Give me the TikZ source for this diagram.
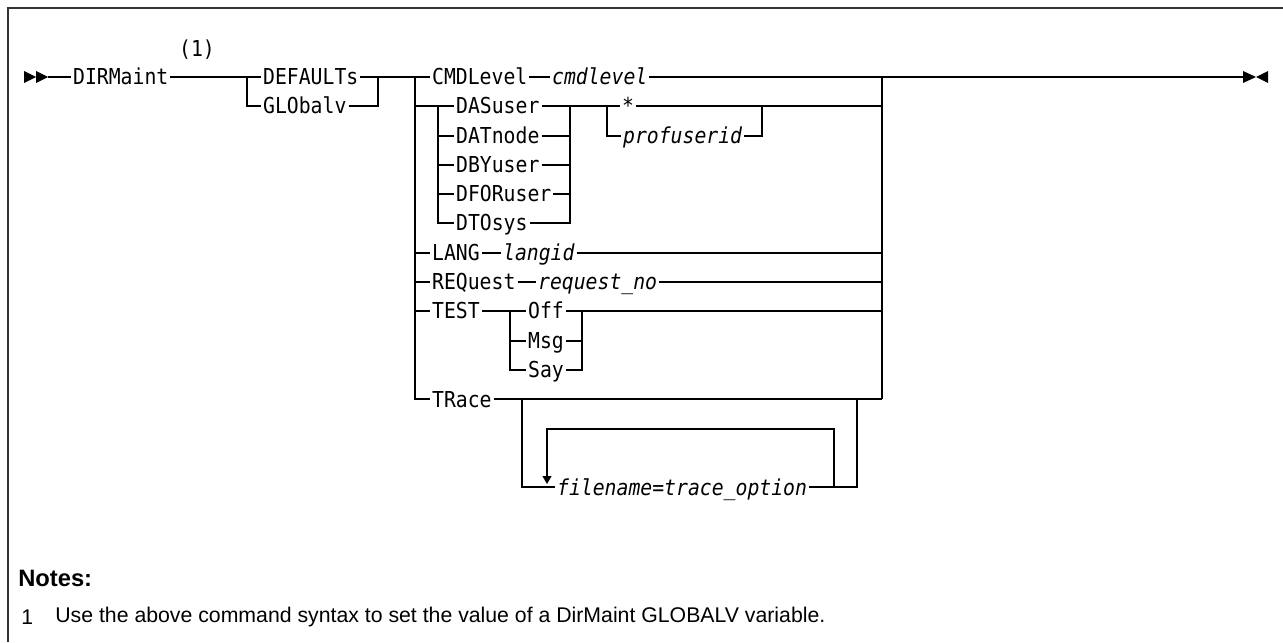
\documentclass[tikz,border=0pt]{standalone}
\usepackage{fontspec}
\setmainfont{Liberation Sans}
\newfontfamily\railfont{DejaVu Sans Mono}[ItalicFont={DejaVu Sans Mono Oblique}, FakeStretch=0.9]
\usetikzlibrary{arrows.meta, positioning, calc}
\tikzset{
    kw/.style={anchor=west, inner xsep=1pt, inner ysep=0pt, text height=9.1pt, text depth=0pt, font={\railfont\fontsize{12.5}{14}\selectfont}},
    var/.style={kw, font={\railfont\itshape\fontsize{12.5}{14}\selectfont}},
    rail/.style={line width=0.85pt},
    loop_arrow/.style={rail, -{Triangle[width=5pt,length=4.5pt]}},
    notetext/.style={anchor=west, inner sep=0pt, font={\fontsize{12.1}{14}\selectfont}}
}

\begin{document}
\begin{tikzpicture}[x=0.02cm, y=-0.02cm]
            \useasboundingbox (0,0) rectangle (1283,642);

            % Frame
            \draw[line width=1pt, black!80] (1283,8) -- (8,8) -- (8,642);

            % Keywords and variables
            \node[kw] (dirm) at (71,77) {DIRMaint};
            \node[kw, anchor=center] (ref1) at (197,49) {(1)};
            \node[kw] (deflt) at (261,77) {DEFAULTs};
            \node[kw] (globv) at (261,106) {GLObalv};
            \node[kw] (cmdl) at (430,77) {CMDLevel};
            \node[var] (cmdv) at (550,77) {cmdlevel};
            \node[kw] (dasu) at (454,106) {DASuser};
            \node[kw] (datn) at (454,136) {DATnode};
            \node[kw] (dbyu) at (454,165) {DBYuser};
            \node[kw] (dfor) at (454,194) {DFORuser};
            \node[kw] (dtos) at (454,223) {DTOsys};
            \node[kw] (star) at (620,106) {*};
            \node[var] (prof) at (621,136) {profuserid};
            \node[kw] (lang) at (430,253) {LANG};
            \node[var] (langv) at (501,253) {langid};
            \node[kw] (requ) at (430,282) {REQuest};
            \node[var] (requv) at (536,282) {request\_no};
            \node[kw] (test) at (430,311) {TEST};
            \node[kw] (off) at (526,311) {Off};
            \node[kw] (msg) at (526,341) {Msg};
            \node[kw] (say) at (526,370) {Say};
            \node[kw] (trace) at (430,399) {TRace};
            \node[var] (fname) at (555,487) {filename=trace\_option};

            % Junctions
            \coordinate (begin) at (48,77);
            \coordinate (grp_l) at (247,77);
            \coordinate (grp_r) at (378,77);
            \coordinate (opt_l) at (415,77);
            \coordinate (rgt) at (882,77);
            \coordinate (dat_l) at (438,106);
            \coordinate (dat_r) at (570,106);
            \coordinate (usr_l) at (607,106);
            \coordinate (usr_r) at (762,106);
            \coordinate (tst_l) at (510,311);
            \coordinate (tst_r) at (582,311);
            \coordinate (trc_l) at (522,399);
            \coordinate (trc_r) at (857,399);
            \coordinate (lp_r) at (834,429);
            \coordinate (lp_l) at (547,429);
            \coordinate (lp_tip) at (547,484);
            \coordinate (finish) at (1243,77);

            % Start and end marks
            \fill (24,71) -- (36,77) -- (24,83) -- cycle;
            \fill (36,71) -- (48,77) -- (36,83) -- cycle;
            \fill (1243,71) -- (1256,77) -- (1243,83) -- cycle;
            \fill (1268,71) -- (1256,77) -- (1268,83) -- cycle;

            % Main line
            \draw[rail] (begin) -- (dirm.west);
            \draw[rail] (dirm.east) -- (deflt.west);
            \draw[rail] (grp_l) |- (globv.west);
            \draw[rail] (deflt.east) -- (cmdl.west);
            \draw[rail] (globv.east) -| (grp_r);
            \draw[rail] (cmdl.east) -- (cmdv.west);
            \draw[rail] (cmdv.east) -- (finish);

            % Option stack
            \draw[rail] (opt_l) |- (trace.west);
            \draw[rail] (opt_l |- dasu) -- (dasu.west);
            \draw[rail] (opt_l |- lang) -- (lang.west);
            \draw[rail] (opt_l |- requ) -- (requ.west);
            \draw[rail] (opt_l |- test) -- (test.west);
            \draw[rail] (rgt) -- (rgt |- trace);

            % DASuser group
            \draw[rail] (dat_l) |- (datn.west);
            \draw[rail] (dat_l) |- (dbyu.west);
            \draw[rail] (dat_l) |- (dfor.west);
            \draw[rail] (dat_l) |- (dtos.west);
            \draw[rail] (dasu.east) -- (star.west);
            \draw[rail] (datn.east) -| (dat_r);
            \draw[rail] (dbyu.east) -| (dat_r);
            \draw[rail] (dfor.east) -| (dat_r);
            \draw[rail] (dtos.east) -| (dat_r);
            \draw[rail] (usr_l) |- (prof.west);
            \draw[rail] (prof.east) -| (usr_r);
            \draw[rail] (star.east) -- (star.east -| rgt);

            % LANG, REQuest
            \draw[rail] (lang.east) -- (langv.west);
            \draw[rail] (langv.east) -- (langv.east -| rgt);
            \draw[rail] (requ.east) -- (requv.west);
            \draw[rail] (requv.east) -- (requv.east -| rgt);

            % TEST
            \draw[rail] (test.east) -- (off.west);
            \draw[rail] (tst_l) |- (msg.west);
            \draw[rail] (tst_l) |- (say.west);
            \draw[rail] (msg.east) -| (tst_r);
            \draw[rail] (say.east) -| (tst_r);
            \draw[rail] (off.east) -- (off.east -| rgt);

            % TRace with repeat loop
            \draw[rail] (trace.east) -- (trace.east -| rgt);
            \draw[rail] (trc_l) |- (fname.west);
            \draw[rail] (fname.east) -| (trc_r);
            \draw[loop_arrow] (fname.east -| lp_r) -- (lp_r) -- (lp_l) -- (lp_tip);

            % Notes
            \node[notetext, font={\bfseries\fontsize{13.5}{16}\selectfont}] (notes) at (18,578) {Notes:};
            \node[notetext] (num1) at (21,617) {1};
            \node[notetext] (note1) at (55,617) {Use the above command syntax to set the value of a DirMaint GLOBALV variable.};
\end{tikzpicture}
\end{document}
